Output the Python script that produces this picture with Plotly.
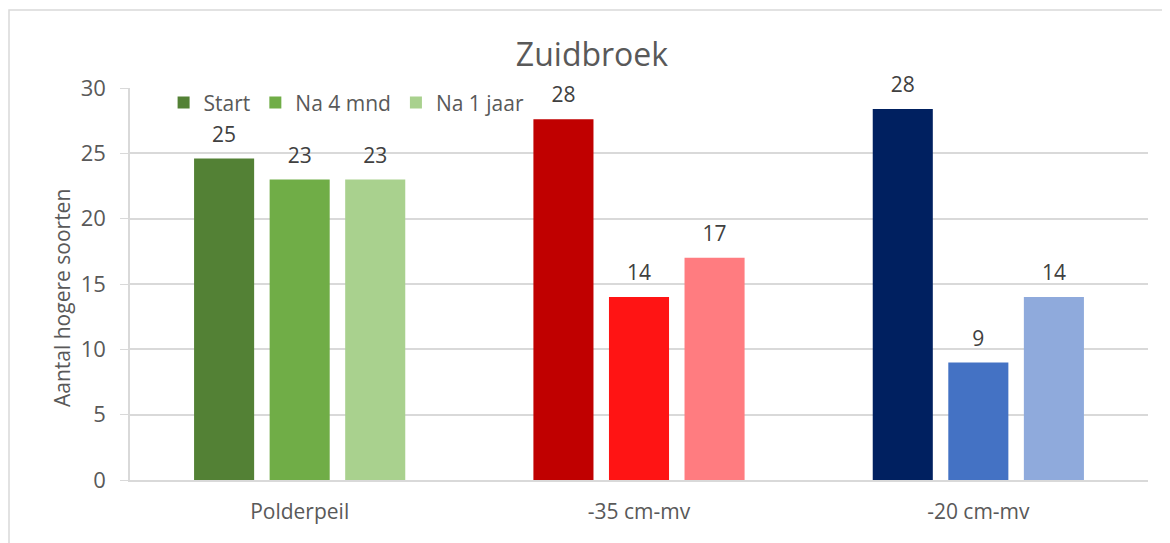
import plotly.graph_objects as go

categories = ["Polderpeil", "-35 cm-mv", "-20 cm-mv"]
series_names = ["Start", "Na 4 mnd", "Na 1 jaar"]
start_values = [24.6, 27.6, 28.4]
na4_values = [23.0, 14.0, 9.0]
na1_values = [23.0, 17.0, 14.0]
start_colors = ["#538135", "#C00000", "#002060"]
na4_colors = ["#70AD47", "#FF1414", "#4472C4"]
na1_colors = ["#A9D18E", "#FF7C80", "#8FAADC"]

y_ticks = [0, 5, 10, 15, 20, 25, 30]
y_title = "Aantal hogere soorten"

FONT = "Open Sans"
GRID = "#d9d9d9"
TXT = "#595959"
LBL = "#404040"

W, H = 1162, 535
ML, MR, MT, MB = 122, 22, 80, 63
plot_w = W - ML - MR
plot_h = H - MT - MB

fig = go.Figure()
series = list(zip(series_names, [start_values, na4_values, na1_values],
                  [start_colors, na4_colors, na1_colors]))
for i, (name, vals, cols) in enumerate(series):
    fig.add_trace(go.Bar(
        x=categories, y=vals, name=name,
        marker=dict(color=cols, line=dict(width=0)),
        offsetgroup=str(i), alignmentgroup="a",
    ))
for i, (name, vals, cols) in enumerate(series):
    fig.add_trace(go.Scatter(
        x=categories, y=vals, mode="markers+text",
        text=[f"{round(v)}" for v in vals],
        textposition="top center",
        textfont=dict(family=FONT, size=21, color=LBL),
        marker=dict(size=17, opacity=0),
        offsetgroup=str(i), alignmentgroup="a",
        showlegend=False, hoverinfo="skip", cliponaxis=False,
    ))

fig.update_layout(
    width=W, height=H,
    margin=dict(l=ML, r=MR, t=MT, b=MB),
    paper_bgcolor="white", plot_bgcolor="white",
    barmode="group", bargap=0.332, bargroupgap=0.205,
    scattermode="group", scattergap=0.332,
    font=dict(family=FONT, color=TXT, size=21),
    title=dict(text="Zuidbroek", x=(592 - 8) / W, xanchor="center", xref="container",
               y=1 - 47 / H, yanchor="middle", yref="container",
               font=dict(family=FONT, size=32, color=TXT)),
    legend=dict(orientation="h", x=0.033, xanchor="left", y=0.962, yanchor="middle",
                bgcolor="rgba(0,0,0,0)", font=dict(family=FONT, size=21, color=TXT),
                traceorder="normal"),
    showlegend=True,
)
fig.update_xaxes(
    type="category", showgrid=False, showline=True, linecolor=GRID, linewidth=1.5,
    ticks="", tickfont=dict(family=FONT, size=21, color=TXT), ticklabelstandoff=12,
)
fig.update_yaxes(
    range=[0, 30], tickvals=y_ticks, showgrid=True, gridcolor=GRID, gridwidth=1.5,
    showline=True, linecolor=GRID, linewidth=1.5, ticks="outside", ticklen=8,
    tickcolor=GRID, tickfont=dict(family=FONT, size=22, color=TXT),
    zeroline=False, ticklabelstandoff=10,
)
fig.add_annotation(
    text=y_title, textangle=-90, showarrow=False,
    xref="paper", yref="paper",
    x=(54 - ML) / plot_w, y=(plot_h - (298 - 8 - MT)) / plot_h,
    xanchor="center", yanchor="middle",
    font=dict(family=FONT, size=21, color=TXT),
)
fig.add_shape(type="rect", xref="paper", yref="paper",
              x0=(1 - ML) / plot_w, x1=(1161 - ML) / plot_w,
              y0=-0.3, y1=(plot_h + MT - 2) / plot_h,
              line=dict(color=GRID, width=1.5), fillcolor="rgba(0,0,0,0)", layer="below")

fig.write_html("out.html")
